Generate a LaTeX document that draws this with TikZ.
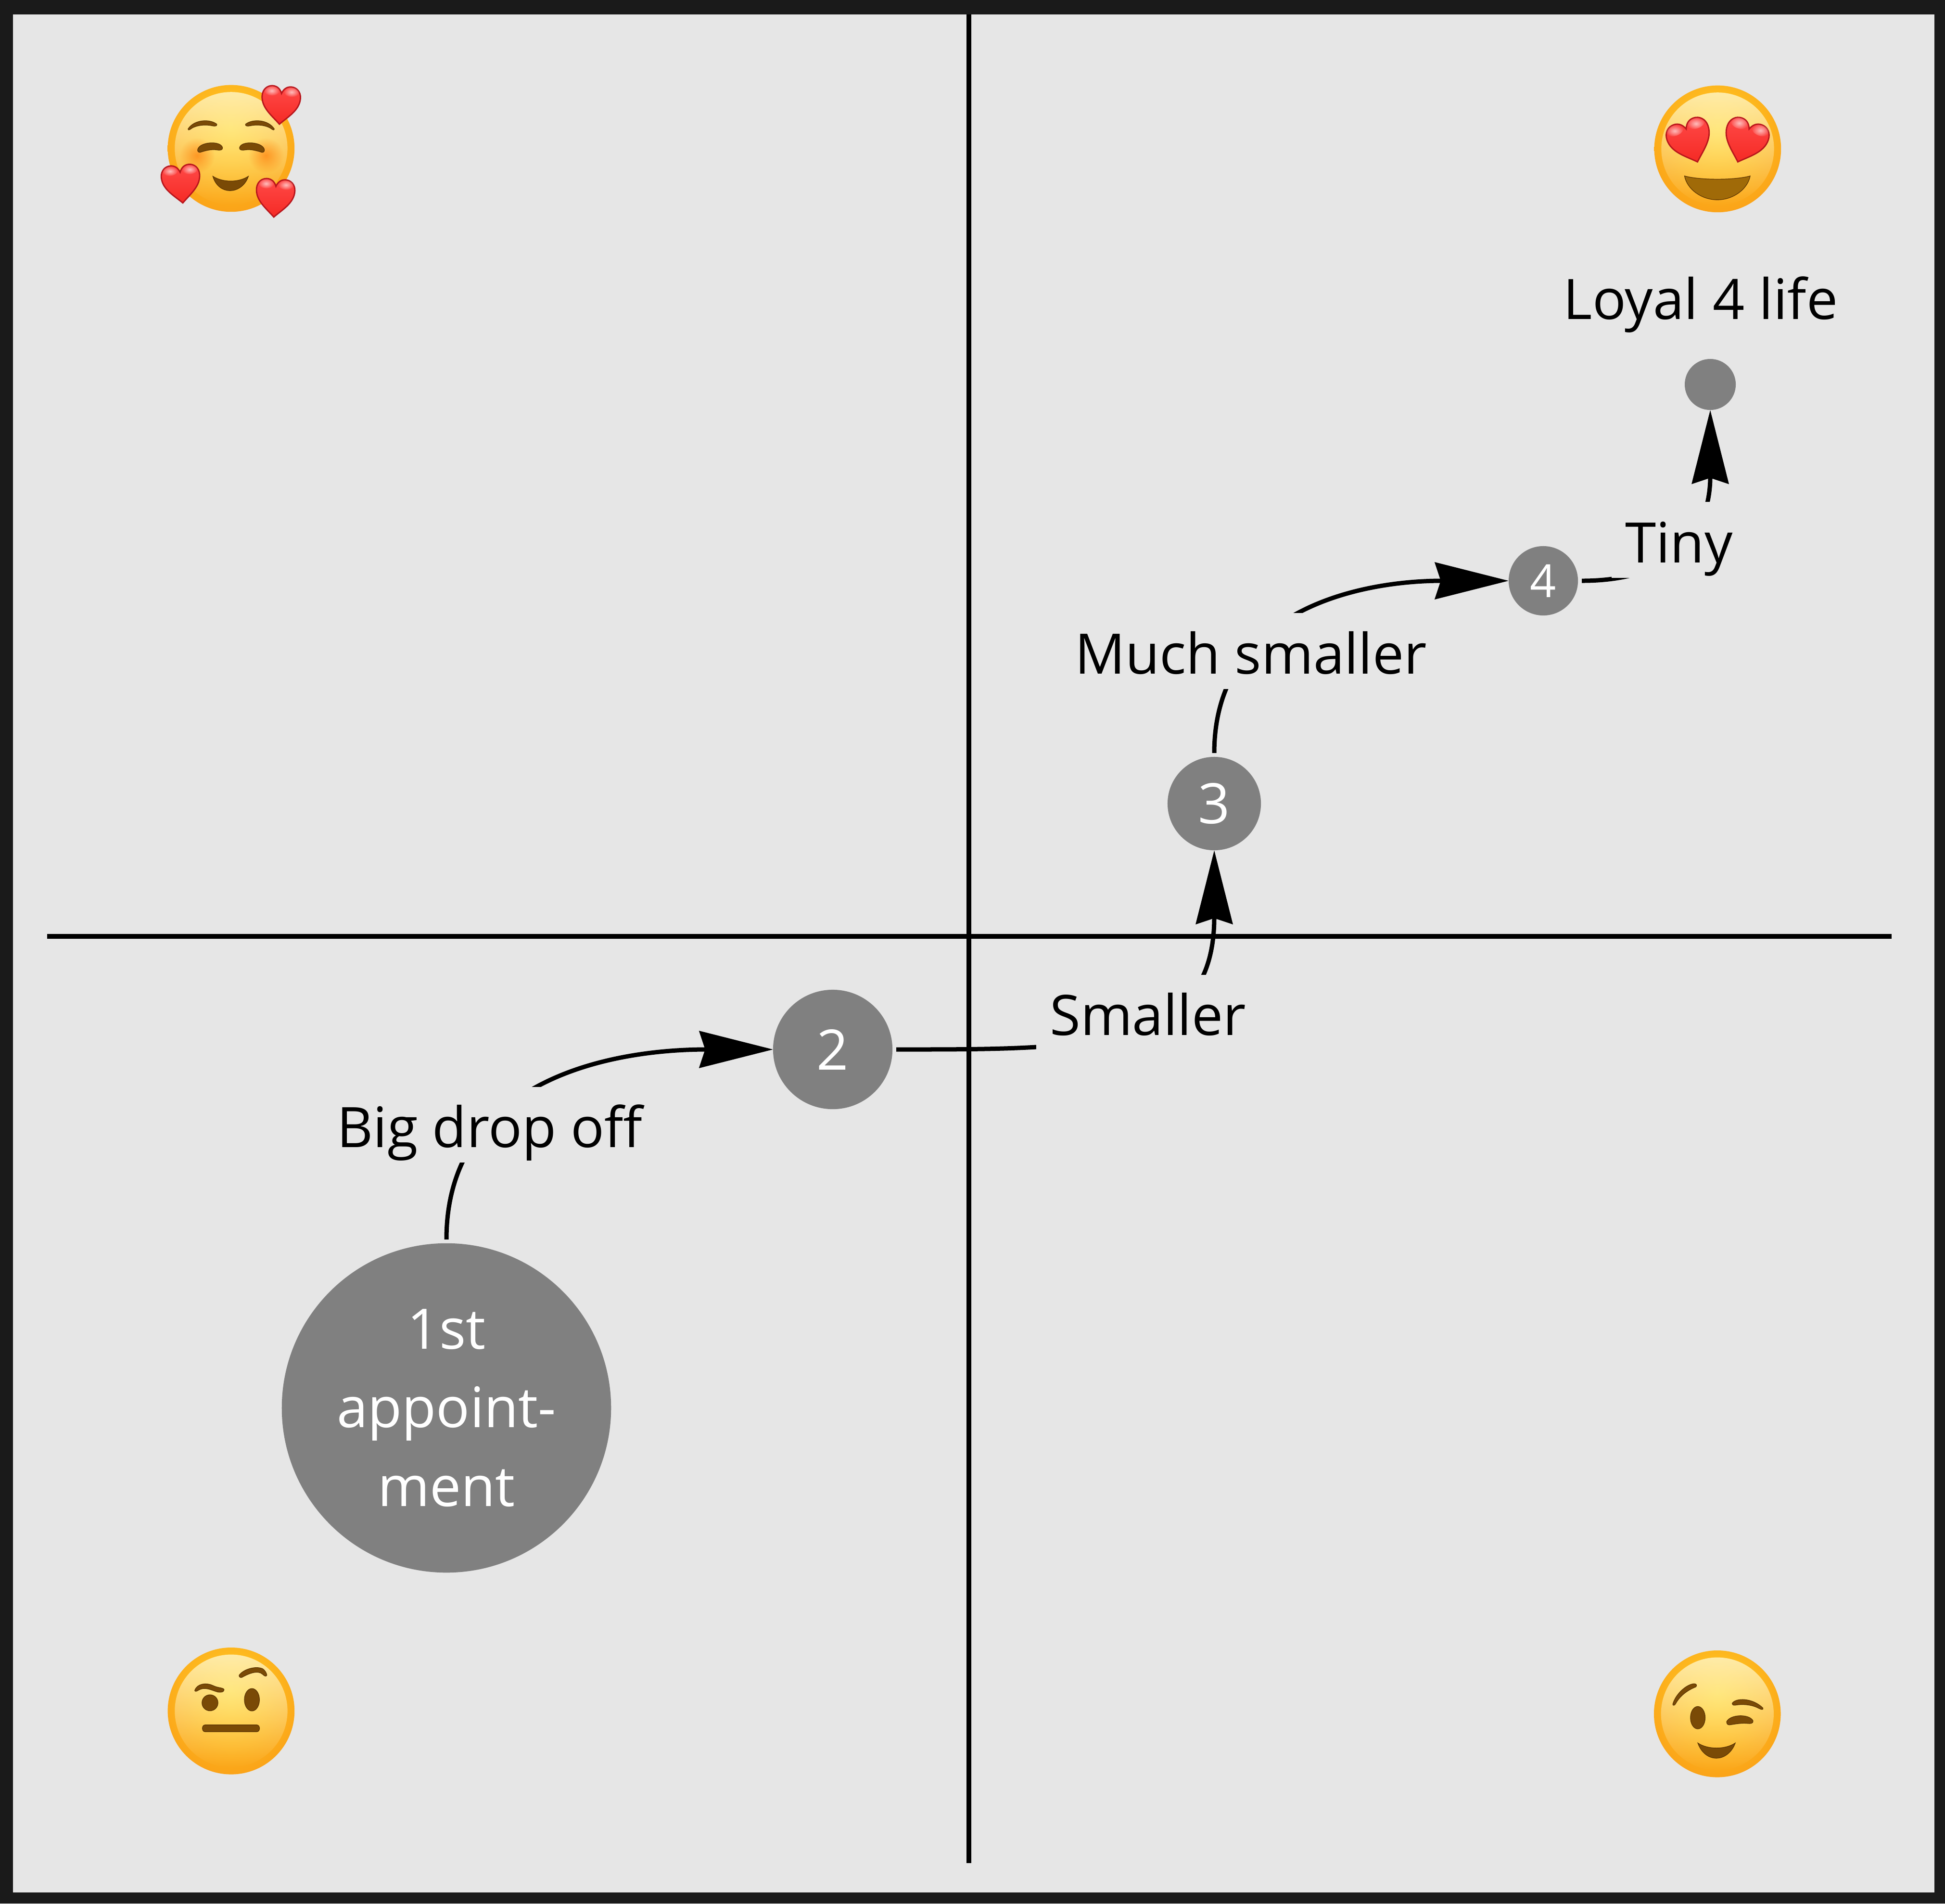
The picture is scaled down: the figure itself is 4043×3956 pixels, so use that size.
\documentclass[tikz,border=0pt]{standalone}
\usepackage{fontspec}
\setmainfont{Open Sans}
\usetikzlibrary{arrows.meta,fadings}
\definecolor{frame}{HTML}{1A1A1A}
\definecolor{paper}{HTML}{E6E6E6}
\definecolor{dotgrey}{HTML}{808080}
\definecolor{brow}{HTML}{7A4A06}
\definecolor{browdk}{HTML}{5A3403}
\definecolor{mouthc}{HTML}{A06A08}
\definecolor{heartline}{HTML}{B8161C}
\definecolor{heartlo}{HTML}{F52A25}
\definecolor{hearthi}{HTML}{FF4A48}
\definecolor{hl}{HTML}{FFF4C0}
\definecolor{blushc}{HTML}{FF7A08}
\pgfdeclareradialshading{emojiface}{\pgfpoint{0bp}{8bp}}{%
  rgb(0bp)=(1,0.84,0.15);
  rgb(10bp)=(1,0.77,0.13);
  rgb(22bp)=(0.99,0.69,0.11);
  rgb(34bp)=(0.98,0.62,0.09);
  rgb(45bp)=(0.95,0.55,0.06);
  rgb(54bp)=(0.84,0.42,0.03);
  rgb(100bp)=(0.84,0.42,0.03)}
\tikzfading[name=hlfade, top color=transparent!15, middle color=transparent!100, bottom color=transparent!100]
\tikzfading[name=spotfade, inner color=transparent!35, outer color=transparent!100]
\tikzset{
  dotnode/.style={circle,fill=dotgrey,draw=none,outer sep=0pt,inner sep=0pt,minimum size=#1*0.02cm,text=white,align=center},
  bigtext/.style={font=\fontsize{33}{46.4}\selectfont},
  smalltext/.style={font=\fontsize{27}{36}\selectfont},
  lbl/.style={fill=paper,text=black,bigtext,inner xsep=0.28cm,inner ysep=0pt,text height=1.26cm,text depth=0.31cm},
  conn/.style={draw=black,line width=0.09cm,-{Stealth[length=1.53cm,width=0.76cm,inset=0.12cm]},shorten <=0.08cm},
  axisline/.style={draw=black,line width=0.1cm},
  feature/.style={fill=brow,draw=browdk,line width=0.012cm},
  zoomed/.style={x=0.0033333cm,y=-0.0033333cm}
}
\newcommand{\heartat}[4]{%
  \begin{scope}[shift={(#1,#2)},rotate=#4,scale=#3]
    \path[draw=heartline,line width=0.028cm,top color=hearthi,bottom color=heartlo]
      (0,120) .. controls (-50,70) and (-120,25) .. (-120,-50)
      .. controls (-120,-90) and (-92,-117) .. (-58,-117)
      .. controls (-30,-117) and (-10,-100) .. (0,-72)
      .. controls (10,-100) and (30,-117) .. (58,-117)
      .. controls (92,-117) and (120,-90) .. (120,-50)
      .. controls (120,25) and (50,70) .. (0,120) -- cycle;
    \path[fill=white,path fading=spotfade] (-62,-85) ellipse[x radius=48,y radius=30];
    \path[fill=white,path fading=spotfade] (62,-85) ellipse[x radius=48,y radius=30];
  \end{scope}}
\newcommand{\faceat}[3]{%
  \path[shading=emojiface] (#1,#2) circle[radius=#3];
  \path[fill=hl,path fading=hlfade] (#1,#2) circle[radius=352];}
\begin{document}
\begin{tikzpicture}[x=0.01cm,y=-0.01cm]
\useasboundingbox (0,0) rectangle (4043,3956);
\fill[frame] (0,0) rectangle (4043,3956);
\fill[paper] (27,30) rectangle (4021,3933);
% axes
\draw[axisline] (2014,30) -- (2014,3872);
\draw[axisline] (98,1946) -- (3932,1946);
% emoji top left
\begin{scope}[shift={(300,150)},zoomed]
  \faceat{542}{476}{396}
  \path[fill=blushc,path fading=spotfade] (330,520) circle[radius=110];
  \path[fill=blushc,path fading=spotfade] (760,520) circle[radius=110];
  \path[feature] (273,355) .. controls (310,295) and (410,290) .. (453,325) .. controls (455,338) and (440,338) .. (425,335) .. controls (380,325) and (320,330) .. (285,358) .. controls (280,362) and (272,362) .. cycle;
  \path[feature] (812,355) .. controls (775,295) and (675,290) .. (632,325) .. controls (630,338) and (645,338) .. (660,335) .. controls (705,325) and (765,330) .. (800,358) .. controls (805,362) and (813,362) .. cycle;
  \path[feature] (333,485) .. controls (340,435) and (475,425) .. (488,470) .. controls (490,490) and (470,488) .. (450,485) .. controls (420,480) and (380,490) .. (350,500) .. controls (340,503) and (332,495) .. cycle;
  \path[feature] (750,485) .. controls (743,435) and (608,425) .. (595,470) .. controls (593,490) and (613,488) .. (633,485) .. controls (663,480) and (703,490) .. (733,500) .. controls (743,503) and (751,495) .. cycle;
  \path[feature] (428,650) .. controls (490,690) and (590,690) .. (650,650) .. controls (630,710) and (580,740) .. (535,740) .. controls (490,740) and (445,710) .. cycle;
  \heartat{852}{205}{1}{-4}
  \heartat{230}{697}{1}{5}
  \heartat{817}{785}{1}{-4}
\end{scope}
% emoji top right
\begin{scope}[shift={(3400,150)},zoomed]
  \faceat{512}{479}{396}
  \path[feature,fill=mouthc] (305,648) .. controls (400,675) and (620,675) .. (715,648) .. controls (700,730) and (610,797) .. (510,797) .. controls (410,797) and (320,730) .. cycle;
  \heartat{342}{432}{1.13}{19}
  \heartat{682}{432}{1.13}{-19}
\end{scope}
% emoji bottom left
\begin{scope}[shift={(320,3400)},zoomed]
  \faceat{482}{468}{396}
  \path[feature] (255,340) .. controls (270,295) and (330,290) .. (370,310) .. controls (400,325) and (435,322) .. (438,335) .. controls (438,352) and (415,352) .. (400,350) .. controls (360,340) and (320,312) .. (275,340) .. controls (265,347) and (255,347) .. cycle;
  \path[feature] (532,245) .. controls (560,205) and (640,185) .. (680,205) .. controls (695,215) and (705,235) .. (705,245) .. controls (700,255) and (690,250) .. (680,240) .. controls (650,210) and (590,235) .. (550,258) .. controls (540,262) and (530,255) .. cycle;
  \path[feature] (350,417) circle[radius=50];
  \path[feature] (612,398) ellipse[x radius=47,y radius=70];
  \path[feature] (320,555) -- (642,555) .. controls (665,555) and (665,598) .. (642,598) -- (320,598) .. controls (297,598) and (297,555) .. (320,555) -- cycle;
\end{scope}
% emoji bottom right
\begin{scope}[shift={(3400,3400)},zoomed]
  \faceat{510}{486}{396}
  \path[feature] (232,425) .. controls (250,360) and (320,300) .. (365,298) .. controls (380,298) and (385,310) .. (375,318) .. controls (320,340) and (275,375) .. (248,425) .. controls (242,435) and (230,435) .. cycle;
  \path[feature] (603,420) .. controls (625,385) and (730,385) .. (795,450) .. controls (798,462) and (785,460) .. (770,452) .. controls (720,425) and (660,425) .. (620,432) .. controls (610,433) and (603,430) .. cycle;
  \path[feature] (388,510) ellipse[x radius=46,y radius=70];
  \path[feature] (568,535) .. controls (590,488) and (712,485) .. (733,530) .. controls (735,548) and (715,548) .. (690,545) .. controls (650,543) and (610,552) .. (585,555) .. controls (575,555) and (568,548) .. cycle;
  \path[feature] (388,668) .. controls (450,710) and (560,710) .. (622,668) .. controls (600,730) and (550,763) .. (505,763) .. controls (455,763) and (410,730) .. cycle;
\end{scope}
% nodes
\node[dotnode=342,bigtext] (n1) at (928,2926) {1st\\appoint-\\ment};
\node[dotnode=124,bigtext] (n2) at (1731,2181) {2};
\node[dotnode=97,bigtext] (n3) at (2524,1670) {3};
\node[dotnode=72,smalltext] (n4) at (3208,1207) {4};
\node[dotnode=53] (n5) at (3555,799) {};
% connectors
\draw[conn] (n1) to[out=90,in=180,looseness=1.1] (n2);
\draw[conn] (n2) to[out=0,in=270,looseness=1.35] (n3);
\draw[conn] (n3) to[out=90,in=180,looseness=1.1] (n4);
\draw[conn] (n4) to[out=0,in=270,looseness=1.3] (n5);
% labels
\node[lbl] (l1) at (1018,2337) {Big drop off};
\node[lbl] (l2) at (2386,2104) {Smaller};
\node[lbl] (l3) at (2600,1353) {Much smaller};
\node[lbl] (l4) at (3490,1122) {Tiny};
\node[lbl,fill=none] (l5) at (3535,616) {Loyal 4 life};
\end{tikzpicture}
\end{document}
